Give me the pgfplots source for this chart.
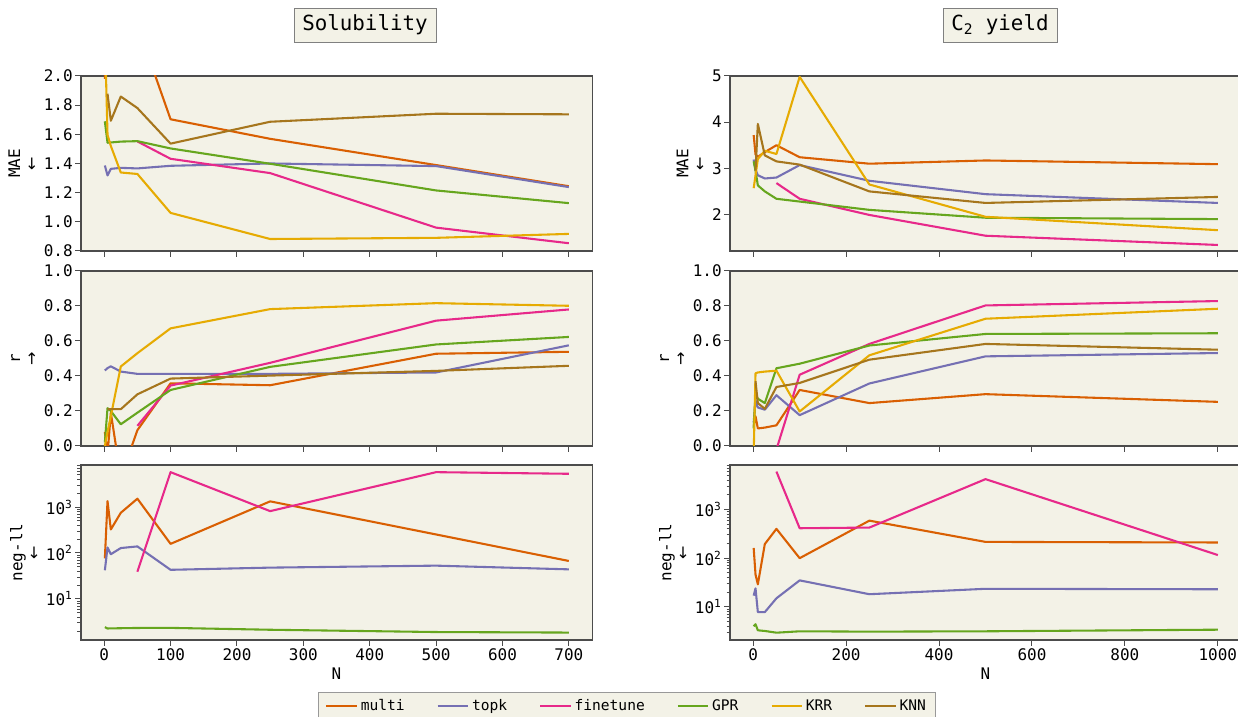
\documentclass[border=0pt]{standalone}
\usepackage{fontspec}
\setmainfont{DejaVu Sans Mono}
\newfontfamily\arw{DejaVu Sans}
\usepackage{pgfplots}
\pgfplotsset{compat=1.18}
\definecolor{cmulti}{HTML}{D95F02}
\definecolor{ctopk}{HTML}{7570B3}
\definecolor{cfine}{HTML}{E7298A}
\definecolor{cgpr}{HTML}{66A61E}
\definecolor{ckrr}{HTML}{E6AB02}
\definecolor{cknn}{HTML}{A6761D}
\definecolor{bg}{HTML}{F3F2E7}
\pgfplotsset{
  panel/.style={scale only axis, width=368pt, height=126pt,
    axis background/.style={fill=bg},
    axis line style={draw=black!70, line width=0.8pt},
    every tick/.style={draw=black!70, line width=0.7pt},
    tick align=outside, xtick pos=bottom, ytick pos=left,
    major tick length=4pt, minor tick length=2.5pt,
    tick label style={font=\fontsize{11.5}{13}\selectfont, inner sep=1.8pt},
    label style={font=\fontsize{11.5}{13}\selectfont},
    ylabel style={align=center, inner sep=1pt}, ylabel shift=2pt,
    /pgf/number format/assume math mode=true,
    /pgf/number format/1000 sep={},
    legend image code/.code={\draw[##1] (0pt,0pt) -- (22pt,0pt);}},
  onedec/.style={yticklabel style={/pgf/number format/.cd, fixed, fixed zerofill, precision=1}},
  leftx/.style={xmin=-35, xmax=735, xtick={0,100,200,300,400,500,600,700}},
  rightx/.style={xmin=-50, xmax=1050, xtick={0,200,400,600,800,1000}},
  nolab/.style={xticklabels={}},
  logticks/.style={ytick={10,100,1000},
    yticklabels={10\textsuperscript{1},10\textsuperscript{2},10\textsuperscript{3}},
    minor ytick={2,3,4,5,6,7,8,9,20,30,40,50,60,70,80,90,200,300,400,500,600,700,800,900,2000,3000,4000,5000,6000,7000,8000}},
  lmulti/.style={cmulti, line width=1.5pt, line join=round},
  ltopk/.style={ctopk, line width=1.5pt, line join=round},
  lfine/.style={cfine, line width=1.5pt, line join=round},
  lgpr/.style={cgpr, line width=1.5pt, line join=round},
  lkrr/.style={ckrr, line width=1.5pt, line join=round},
  lknn/.style={cknn, line width=1.5pt, line join=round},
}
\begin{document}
\begin{tikzpicture}
\useasboundingbox (0pt,0pt) rectangle (891.4pt,-516.2pt);
\node[draw=black!50, fill=bg, font=\fontsize{15}{17}\selectfont, inner xsep=6pt, inner ysep=5pt] at (262.8pt,-18pt) {Solubility};
\node[draw=black!50, fill=bg, font=\fontsize{15}{17}\selectfont, inner xsep=6pt, inner ysep=5pt] at (720pt,-18pt) {C\textsubscript{2} yield};

% ---------- Solubility MAE
\begin{axis}[panel, leftx, nolab, onedec, at={(58.3pt,-54.7pt)}, anchor=north west,
  ymin=0.8, ymax=2.0, ytick={0.8,1.0,1.2,1.4,1.6,1.8,2.0}, ylabel={MAE\\[-1pt]{\arw ←}}]
\addplot[lmulti] coordinates {(1,1.98)(5,2.4)(10,2.5)(25,2.4)(50,2.35)(100,1.703)(250,1.569)(500,1.389)(700,1.244)};
\addplot[ltopk] coordinates {(1,1.386)(5,1.318)(10,1.363)(25,1.37)(50,1.366)(100,1.384)(250,1.40)(500,1.382)(700,1.238)};
\addplot[lfine] coordinates {(50,1.551)(100,1.432)(250,1.334)(500,0.96)(700,0.853)};
\addplot[lgpr] coordinates {(1,1.689)(5,1.542)(10,1.544)(25,1.55)(50,1.553)(100,1.503)(250,1.398)(500,1.215)(700,1.128)};
\addplot[lkrr] coordinates {(1,2.3)(5,1.596)(10,1.52)(25,1.338)(50,1.328)(100,1.061)(250,0.882)(500,0.89)(700,0.917)};
\addplot[lknn] coordinates {(5,1.878)(10,1.693)(25,1.859)(50,1.78)(100,1.536)(250,1.686)(500,1.741)(700,1.737)};
\end{axis}

% ---------- Solubility r
\begin{axis}[panel, leftx, nolab, onedec, at={(58.3pt,-195.1pt)}, anchor=north west,
  ymin=0, ymax=1, ytick={0,0.2,0.4,0.6,0.8,1.0}, ylabel={r\\[-1pt]{\arw →}}]
\addplot[lmulti] coordinates {(1,0.08)(5,-0.05)(10,0.19)(25,-0.18)(50,0.09)(100,0.358)(250,0.347)(500,0.527)(700,0.538)};
\addplot[ltopk] coordinates {(1,0.431)(5,0.445)(10,0.455)(25,0.425)(50,0.412)(100,0.412)(250,0.412)(500,0.42)(700,0.575)};
\addplot[lfine] coordinates {(50,0.115)(100,0.345)(250,0.475)(500,0.716)(700,0.78)};
\addplot[lgpr] coordinates {(1,0.02)(5,0.216)(10,0.2)(25,0.124)(50,0.19)(100,0.32)(250,0.452)(500,0.58)(700,0.623)};
\addplot[lkrr] coordinates {(1,0.0)(5,0.08)(10,0.17)(25,0.454)(50,0.53)(100,0.672)(250,0.782)(500,0.816)(700,0.801)};
\addplot[lknn] coordinates {(5,0.21)(10,0.21)(25,0.21)(50,0.295)(100,0.385)(250,0.402)(500,0.429)(700,0.458)};
\end{axis}

% ---------- Solubility neg-ll
\begin{semilogyaxis}[panel, leftx, logticks, at={(58.3pt,-334.8pt)}, anchor=north west,
  ymin=1.276, ymax=8240, ylabel={neg-ll\\[-1pt]{\arw ←}}, xlabel={N},
  legend columns=6,
  legend style={at={(1.0685,-0.297)}, anchor=north, draw=black!40, fill=bg,
    font=\fontsize{10.5}{12}\selectfont, inner xsep=5pt, inner ysep=3pt,
    /tikz/every even column/.append style={column sep=21pt}}]
\addplot[lmulti] coordinates {(1,76)(5,1350)(10,325)(25,750)(50,1520)(100,158)(250,1330)(500,253)(700,67)};
\addlegendentry{multi}
\addplot[ltopk] coordinates {(1,42)(5,132)(10,94)(25,128)(50,139)(100,43)(250,48)(500,53)(700,44)};
\addlegendentry{topk}
\addplot[lfine] coordinates {(50,39)(100,5750)(250,815)(500,5750)(700,5300)};
\addlegendentry{finetune}
\addplot[lgpr] coordinates {(1,2.43)(5,2.27)(10,2.28)(25,2.3)(50,2.33)(100,2.34)(250,2.13)(500,1.9)(700,1.85)};
\addlegendentry{GPR}
\addlegendimage{lkrr}
\addlegendentry{KRR}
\addlegendimage{lknn}
\addlegendentry{KNN}
\end{semilogyaxis}

% ---------- C2 MAE
\begin{axis}[panel, rightx, nolab, at={(525.6pt,-54.7pt)}, anchor=north west,
  ymin=1.21, ymax=5, ytick={2,3,4,5}, ylabel={MAE\\[-1pt]{\arw ←}}]
\addplot[lmulti] coordinates {(1,3.72)(5,3.30)(10,3.25)(25,3.35)(50,3.5)(100,3.24)(250,3.10)(500,3.17)(1000,3.09)};
\addplot[ltopk] coordinates {(1,3.19)(5,2.97)(10,2.85)(25,2.78)(50,2.80)(100,3.07)(250,2.73)(500,2.44)(1000,2.25)};
\addplot[lfine] coordinates {(50,2.68)(100,2.34)(250,1.99)(500,1.54)(1000,1.34)};
\addplot[lgpr] coordinates {(1,3.15)(5,2.95)(10,2.63)(25,2.5)(50,2.34)(100,2.28)(250,2.10)(500,1.93)(1000,1.90)};
\addplot[lkrr] coordinates {(1,2.57)(5,2.85)(10,3.2)(25,3.38)(50,3.31)(100,4.98)(250,2.65)(500,1.95)(1000,1.66)};
\addplot[lknn] coordinates {(5,2.95)(10,3.96)(25,3.28)(50,3.15)(100,3.08)(250,2.50)(500,2.25)(1000,2.38)};
\end{axis}

% ---------- C2 r
\begin{axis}[panel, rightx, nolab, onedec, at={(525.6pt,-195.1pt)}, anchor=north west,
  ymin=0, ymax=1, ytick={0,0.2,0.4,0.6,0.8,1.0}, ylabel={r\\[-1pt]{\arw →}}]
\addplot[lmulti] coordinates {(1,0.115)(5,0.17)(10,0.10)(25,0.105)(50,0.118)(100,0.32)(250,0.245)(500,0.296)(1000,0.252)};
\addplot[ltopk] coordinates {(1,0.134)(5,0.26)(10,0.22)(25,0.207)(50,0.29)(100,0.176)(250,0.357)(500,0.512)(1000,0.531)};
\addplot[lfine] coordinates {(50,-0.02)(100,0.407)(250,0.583)(500,0.803)(1000,0.828)};
\addplot[lgpr] coordinates {(1,0.1)(5,0.30)(10,0.27)(25,0.245)(50,0.444)(100,0.47)(250,0.574)(500,0.64)(1000,0.644)};
\addplot[lkrr] coordinates {(1,-0.05)(5,0.415)(10,0.42)(25,0.425)(50,0.43)(100,0.197)(250,0.518)(500,0.727)(1000,0.784)};
\addplot[lknn] coordinates {(5,0.37)(10,0.245)(25,0.212)(50,0.337)(100,0.36)(250,0.493)(500,0.583)(1000,0.55)};
\end{axis}

% ---------- C2 neg-ll
\begin{semilogyaxis}[panel, rightx, logticks, at={(525.6pt,-334.8pt)}, anchor=north west,
  ymin=2.09, ymax=8200, ylabel={neg-ll\\[-1pt]{\arw ←}}, xlabel={N}]
\addplot[lmulti] coordinates {(1,162)(5,46)(10,29)(25,195)(50,400)(100,100)(250,590)(500,216)(1000,210)};
\addplot[ltopk] coordinates {(1,17)(5,24)(10,7.8)(25,7.8)(50,15)(100,35)(250,18.2)(500,23.5)(1000,23)};
\addplot[lfine] coordinates {(50,6000)(100,412)(250,425)(500,4200)(1000,116)};
\addplot[lgpr] coordinates {(1,4.0)(5,4.4)(10,3.3)(25,3.2)(50,2.95)(100,3.15)(250,3.1)(500,3.15)(1000,3.4)};
\end{semilogyaxis}
\end{tikzpicture}
\end{document}
